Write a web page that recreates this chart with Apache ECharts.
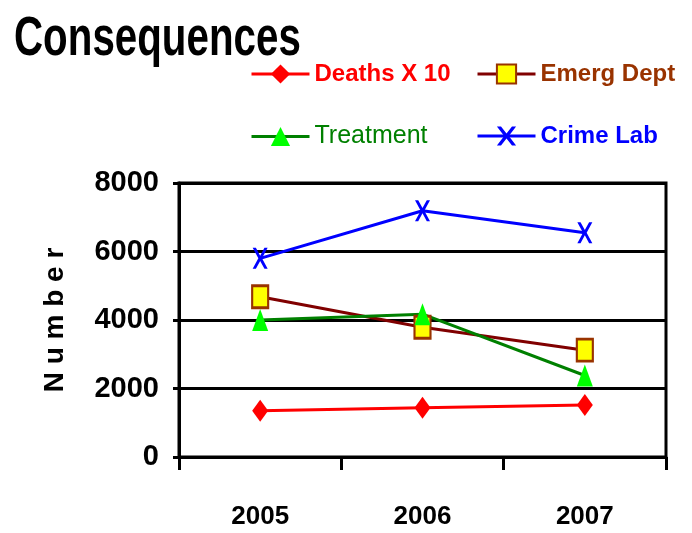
<!DOCTYPE html>
<html>
<head>
<meta charset="utf-8">
<script src="https://cdn.jsdelivr.net/npm/echarts@6/dist/echarts.min.js"></script>
<style>html,body{margin:0;padding:0;background:#fff}#c{width:692px;height:533px}</style>
</head>
<body>
<div id="c"></div>
<script>
var categories = ['2005', '2006', '2007'];
var deaths = [1350, 1440, 1520];
var emerg = [4680, 3790, 3120];
var treatment = [4000, 4170, 2380];
var crimeLab = [5800, 7190, 6550];
var yTicks = [0, 2000, 4000, 6000, 8000];

var FONT = '"Liberation Sans", Arial, sans-serif';
var xPath = 'path://M0,0L3,0L7,7.5L11,0L14,0L8.7,10L14,20L11,20L7,12.5L3,20L0,20L5.3,10Z';

var chart = echarts.init(document.getElementById('c'));
function legend(name, left, top, color, weight, size) {
  return {
    data: [name], left: left, top: top, padding: 0, itemWidth: 58, itemHeight: 24, itemGap: 0,
    lineStyle: {width: 3},
    textStyle: {color: color, fontFamily: FONT, fontWeight: weight, fontSize: size}
  };
}
chart.setOption({
  animation: false,
  graphic: [{
    type: 'text', x: 14, y: 12, scaleX: 0.72,
    style: {text: 'Consequences', fill: '#000', font: 'bold 56px "Liberation Sans", Arial, sans-serif'}
  }],
  legend: [
    legend('Deaths X 10', 250, 62, '#FF0000', 'bold', 24),
    legend('Emerg Dept', 476, 62, '#993300', 'bold', 24),
    legend('Treatment', 250, 124, '#008000', 'normal', 25),
    legend('Crime Lab', 476, 124, '#0000FF', 'bold', 24)
  ],
  grid: {left: 179, right: 26, top: 183, bottom: 76, show: true, borderColor: '#000', borderWidth: 3},
  xAxis: {
    type: 'category', data: categories, boundaryGap: true,
    axisLine: {lineStyle: {color: '#000', width: 3}},
    axisTick: {show: true, length: 13, interval: 0, lineStyle: {color: '#000', width: 3}},
    axisLabel: {margin: 47, color: '#000', fontFamily: FONT, fontWeight: 'bold', fontSize: 26}
  },
  yAxis: {
    type: 'value', min: 0, max: 8000, interval: 2000,
    name: 'N u m b e r', nameLocation: 'middle', nameGap: 110, nameRotate: 90,
    nameTextStyle: {color: '#000', fontFamily: FONT, fontWeight: 'bold', fontSize: 28},
    axisLine: {show: true, lineStyle: {color: '#000', width: 3}},
    axisTick: {show: true, length: 6, lineStyle: {color: '#000', width: 3}},
    splitLine: {lineStyle: {color: '#000', width: 3}},
    axisLabel: {margin: 20, color: '#000', fontFamily: FONT, fontWeight: 'bold', fontSize: 29,
      formatter: function (v) { return yTicks.indexOf(v) >= 0 ? String(v) : ''; }}
  },
  series: [
    {name: 'Deaths X 10', type: 'line', data: deaths, symbol: 'diamond', symbolSize: [16, 22],
      lineStyle: {color: '#FF0000', width: 3}, itemStyle: {color: '#FF0000'}},
    {name: 'Emerg Dept', type: 'line', data: emerg, symbol: 'rect', symbolSize: [16, 22],
      lineStyle: {color: '#800000', width: 3}, itemStyle: {color: '#FFFF00', borderColor: '#993300', borderWidth: 2.5}},
    {name: 'Treatment', type: 'line', data: treatment, symbol: 'triangle', symbolSize: [16, 22],
      lineStyle: {color: '#008000', width: 3}, itemStyle: {color: '#00FF00'}},
    {name: 'Crime Lab', type: 'line', data: crimeLab, symbol: xPath, symbolSize: [15, 21],
      lineStyle: {color: '#0000FF', width: 3}, itemStyle: {color: '#0000FF'}}
  ]
});
</script>
</body>
</html>
